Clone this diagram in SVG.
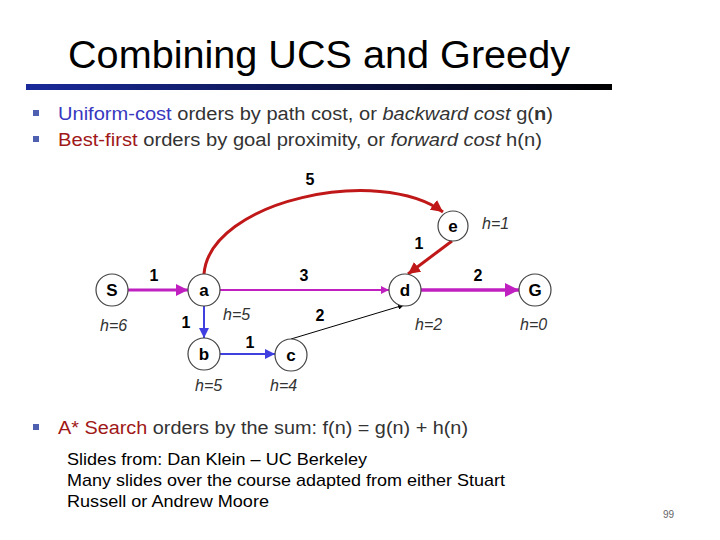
<svg xmlns="http://www.w3.org/2000/svg" width="720" height="540" viewBox="0 0 720 540">
<style>
text{font-family:"Liberation Sans",Arial,sans-serif}
.n circle{fill:#fff;stroke:#444;stroke-width:1.2}
.n text{font-size:17px;font-weight:bold;text-anchor:middle}
.h{font-size:16px;font-style:italic;fill:#333}
.w{font-size:16px;font-weight:bold;text-anchor:middle}
.b{font-size:18px;fill:#333}
</style>
<defs>
<linearGradient id="g" x1="0" x2="1"><stop offset="0" stop-color="#1a2a9a"/><stop offset="1" stop-color="#000"/></linearGradient>
<marker id="mp" viewBox="0 0 10 10" refX="10" refY="5" markerWidth="4" markerHeight="4" orient="auto"><path d="M0,0L10,5L0,10z" fill="#c020c0"/></marker>
<marker id="mb" viewBox="0 0 10 10" refX="10" refY="5" markerWidth="5" markerHeight="5" orient="auto"><path d="M0,0L10,5L0,10z" fill="#4040e0"/></marker>
<marker id="mr" viewBox="0 0 10 10" refX="10" refY="5" markerWidth="4" markerHeight="4" orient="auto"><path d="M0,0L10,5L0,10z" fill="#c01818"/></marker>
<marker id="mk" viewBox="0 0 10 10" refX="10" refY="5" markerWidth="6" markerHeight="6" orient="auto"><path d="M0,0L10,5L0,10z" fill="#000"/></marker>
</defs>
<rect width="720" height="540" fill="#fff"/>
<text x="68" y="68" font-size="38" textLength="502" lengthAdjust="spacingAndGlyphs">Combining UCS and Greedy</text>
<rect x="26" y="84" width="586" height="6" fill="url(#g)"/>
<rect x="33" y="110" width="6" height="6" fill="#5060b0"/>
<text x="58" y="120" class="b" textLength="495" lengthAdjust="spacingAndGlyphs"><tspan fill="#3838c0">Uniform-cost</tspan> orders by path cost, or <tspan font-style="italic">backward cost</tspan>  g(<tspan font-weight="bold">n</tspan>)</text>
<rect x="33" y="136" width="6" height="6" fill="#5060b0"/>
<text x="58" y="146" class="b" textLength="484" lengthAdjust="spacingAndGlyphs"><tspan fill="#a01818">Best-first</tspan> orders by goal proximity, or <tspan font-style="italic">forward cost</tspan>  h(n)</text>
<g id="connectors" fill="none">
<line x1="128" y1="290" x2="188" y2="290" stroke="#c020c0" stroke-width="3" marker-end="url(#mp)"/>
<line x1="220" y1="290" x2="389" y2="290" stroke="#c020c0" stroke-width="2" marker-end="url(#mp)"/>
<line x1="421" y1="290" x2="519" y2="290" stroke="#c020c0" stroke-width="3.5" marker-end="url(#mp)"/>
<path d="M204,274 C210,200 380,165 443,212" stroke="#c01818" stroke-width="3" marker-end="url(#mr)"/>
<line x1="452" y1="241" x2="408" y2="274" stroke="#c01818" stroke-width="3" marker-end="url(#mr)"/>
<line x1="204" y1="306" x2="204" y2="338" stroke="#4040e0" stroke-width="2" marker-end="url(#mb)"/>
<line x1="220" y1="354" x2="275" y2="354" stroke="#4040e0" stroke-width="2" marker-end="url(#mb)"/>
<line x1="291" y1="339" x2="404" y2="305" stroke="#000" stroke-width="1" marker-end="url(#mk)"/>
</g>
<g id="S" class="n"><circle cx="112" cy="290" r="16"/><text x="112" y="296">S</text></g>
<g id="a" class="n"><circle cx="204" cy="290" r="16"/><text x="204" y="296">a</text></g>
<g id="d" class="n"><circle cx="405" cy="290" r="16"/><text x="405" y="296">d</text></g>
<g id="G" class="n"><circle cx="535" cy="290" r="16"/><text x="535" y="296">G</text></g>
<g id="e" class="n"><circle cx="453" cy="226" r="15"/><text x="453" y="232">e</text></g>
<g id="b" class="n"><circle cx="204" cy="354" r="16"/><text x="204" y="360">b</text></g>
<g id="c" class="n"><circle cx="291" cy="355" r="16"/><text x="291" y="361">c</text></g>
<text class="w" x="310" y="185">5</text>
<text class="w" x="154" y="281">1</text>
<text class="w" x="304" y="281">3</text>
<text class="w" x="478" y="281">2</text>
<text class="w" x="419" y="249">1</text>
<text class="w" x="186" y="328">1</text>
<text class="w" x="320" y="321">2</text>
<text class="w" x="250" y="348">1</text>
<text class="h" x="482" y="229">h=1</text>
<text class="h" x="100" y="331">h=6</text>
<text class="h" x="223" y="320">h=5</text>
<text class="h" x="415" y="330">h=2</text>
<text class="h" x="520" y="330">h=0</text>
<text class="h" x="195" y="391">h=5</text>
<text class="h" x="270" y="391">h=4</text>
<rect x="33" y="424" width="6" height="6" fill="#5060b0"/>
<text x="58" y="434" class="b" textLength="410" lengthAdjust="spacingAndGlyphs"><tspan fill="#a01818">A* Search</tspan> orders by the sum: f(n) = g(n) + h(n)</text>
<text x="67" y="465" font-size="17" textLength="300" lengthAdjust="spacingAndGlyphs">Slides from: Dan Klein – UC Berkeley</text>
<text x="67" y="486" font-size="17" textLength="438" lengthAdjust="spacingAndGlyphs">Many slides over the course adapted from either Stuart</text>
<text x="67" y="507" font-size="17" textLength="202" lengthAdjust="spacingAndGlyphs">Russell or Andrew Moore</text>
<text x="663" y="518" font-size="10" fill="#666">99</text>
</svg>
